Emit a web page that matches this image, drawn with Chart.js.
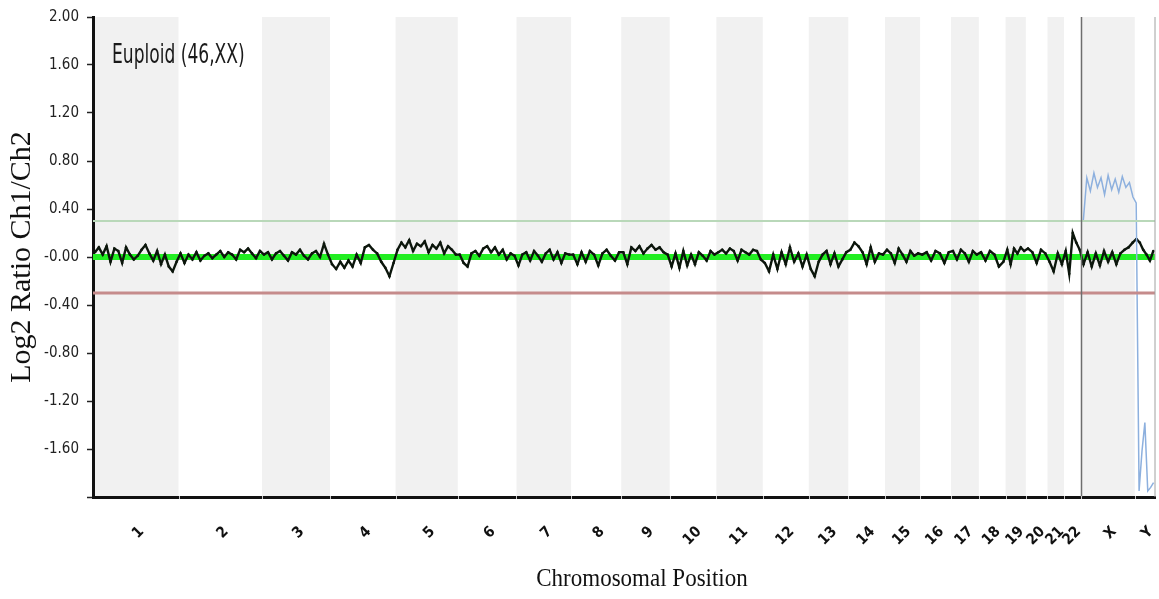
<!DOCTYPE html>
<html>
<head>
<meta charset="utf-8">
<title>Euploid (46,XX)</title>
<script src="https://cdn.jsdelivr.net/npm/chart.js@4.4.1/dist/chart.umd.min.js"></script>
<style>
  html, body { margin: 0; padding: 0; background: #fff; }
  canvas { display: block; }
</style>
</head>
<body>
<canvas id="cghChart" width="1159" height="599"></canvas>
<script>
// ========== Data ==========
// chromosomes and their lengths (Mb)
const chromNames = ['1', '2', '3', '4', '5', '6', '7', '8', '9', '10', '11', '12',
  '13', '14', '15', '16', '17', '18', '19', '20', '21', '22', 'X', 'Y'];
const chromLengths = [249, 243, 198, 191, 181, 171, 159, 146, 141, 136, 135, 134,
  115, 107, 102, 90, 81, 78, 59, 63, 48, 51, 155, 59];

// log2 ratio trace, one array per chromosome
const ratioChr1 = [0.04, 0.08, 0.02, 0.09, -0.04, 0.07, 0.05, -0.05, 0.08, 0.02, -0.02, 0.01, 0.06, 0.10, 0.03, -0.03, 0.05, -0.06, 0.02, -0.08, -0.12, -0.04];
const ratioChr2 = [0.03, -0.05, 0.02, -0.02, 0.04, -0.03, 0.01, 0.03, -0.01, 0.02, 0.05, 0.00, 0.04, 0.02, -0.02, 0.06, 0.04, 0.07, 0.03, -0.01, 0.05];
const ratioChr3 = [0.02, 0.04, -0.02, 0.03, 0.05, 0.01, -0.03, 0.04, 0.02, 0.06, 0.01, -0.02, 0.03, 0.05, 0.00, 0.11, 0.02];
const ratioChr4 = [-0.06, -0.10, -0.04, -0.09, -0.03, -0.08, 0.02, -0.05, 0.08, 0.10, 0.06, 0.03, -0.04, -0.09, -0.16, -0.05];
const ratioChr5 = [0.06, 0.12, 0.08, 0.14, 0.05, 0.11, 0.09, 0.13, 0.04, 0.10, 0.07, 0.12, 0.03, 0.09, 0.06, 0.02];
const ratioChr6 = [0.02, -0.05, -0.08, 0.03, 0.05, 0.01, 0.07, 0.09, 0.04, 0.08, 0.02, 0.06, -0.02, 0.03, 0.01];
const ratioChr7 = [-0.07, 0.02, 0.04, -0.03, 0.05, 0.01, -0.04, 0.03, 0.06, -0.02, 0.04, -0.05, 0.03, 0.02];
const ratioChr8 = [0.02, -0.06, 0.04, -0.04, 0.05, 0.02, -0.07, 0.03, 0.06, 0.01, -0.03, 0.04];
const ratioChr9 = [0.04, -0.06, 0.08, 0.05, 0.09, 0.03, 0.07, 0.10, 0.06, 0.08, 0.04, 0.02];
const ratioChr10 = [-0.08, 0.03, -0.09, 0.05, -0.07, 0.02, -0.06, 0.04, 0.01, -0.03, 0.05, 0.02];
const ratioChr11 = [0.04, 0.06, 0.03, 0.07, 0.05, -0.03, 0.06, 0.04, 0.02, 0.06, 0.05, -0.02];
const ratioChr12 = [-0.05, -0.12, 0.02, -0.10, 0.04, -0.06, 0.08, -0.04, 0.03, -0.08, 0.02];
const ratioChr13 = [-0.10, -0.16, -0.04, 0.02, 0.05, -0.06, 0.03, -0.08, -0.02, 0.04];
const ratioChr14 = [0.06, 0.12, 0.09, 0.04, -0.06, 0.08, -0.04, 0.03, 0.02];
const ratioChr15 = [0.06, 0.03, -0.05, 0.07, 0.02, -0.04, 0.05, 0.01, 0.03];
const ratioChr16 = [0.02, 0.04, -0.03, 0.05, 0.03, -0.05, 0.04];
const ratioChr17 = [0.05, -0.02, 0.06, 0.03, -0.04, 0.05, 0.02];
const ratioChr18 = [0.04, -0.03, 0.05, 0.02, -0.08, -0.04];
const ratioChr19 = [0.06, -0.06, 0.07, 0.03, 0.08, 0.05];
const ratioChr20 = [0.07, 0.04, -0.05, 0.06, 0.03];
const ratioChr21 = [-0.04, -0.12, 0.03, -0.06];
const ratioChr22 = [0.05, -0.14, 0.20, 0.12, 0.06];
const ratioChrX = [-0.06, 0.04, -0.08, 0.03, -0.07, 0.05, -0.04, 0.04, -0.06, 0.03, 0.06, 0.08, 0.12];
const ratioChrY = [0.15, 0.12, 0.06, 0.02, -0.03, 0.05];

const ratioByChrom = [ratioChr1, ratioChr2, ratioChr3, ratioChr4, ratioChr5, ratioChr6,
  ratioChr7, ratioChr8, ratioChr9, ratioChr10, ratioChr11, ratioChr12, ratioChr13,
  ratioChr14, ratioChr15, ratioChr16, ratioChr17, ratioChr18, ratioChr19, ratioChr20,
  ratioChr21, ratioChr22, ratioChrX, ratioChrY];

// light blue trace on the sex chromosomes
const blueChrX = [0.30, 0.66, 0.55, 0.70, 0.58, 0.66, 0.52, 0.68, 0.56, 0.65, 0.54, 0.67, 0.58, 0.62, 0.50];
const blueChrY = [0.45, -1.95, -1.62, -1.38, -1.95, -1.92, -1.88];

// thresholds and baseline
const thresholdGain = 0.3;
const thresholdLoss = -0.3;
const baseline = 0;

// y axis
const yMin = -2;
const yMax = 2;
const yStep = 0.4;

// ========== Derived positions ==========
const chromStarts = [];
chromLengths.reduce((acc, len) => { chromStarts.push(acc); return acc + len; }, 0);
const genomeEnd = chromStarts[chromStarts.length - 1] + chromLengths[chromLengths.length - 1];
const chromCenters = chromStarts.map((s, i) => s + chromLengths[i] / 2);

const spread = (values, c) => values.map((v, i) => ({
  x: chromStarts[c] + (i + 0.5) * chromLengths[c] / values.length,
  y: v
}));

const ratioPoints = ratioByChrom.flatMap((vals, c) => spread(vals, c));
const bluePoints = spread(blueChrX, 22).concat(spread(blueChrY, 23));
const hLine = v => [{ x: 0, y: v }, { x: genomeEnd, y: v }];

const narrowFont = '"Liberation Sans Narrow", "DejaVu Sans Condensed", "Liberation Sans", sans-serif';
const serifFont = '"Liberation Serif", "DejaVu Serif", serif';

// ========== Background bands, markers and captions ==========
const backdrop = {
  id: 'backdrop',
  beforeDraw(chart) {
    const { ctx, chartArea: a, scales: { x } } = chart;
    ctx.save();
    ctx.fillStyle = '#f1f1f1';
    chromStarts.forEach((s, i) => {
      if (i % 2 !== 0) return;
      const l = x.getPixelForValue(s);
      const r = x.getPixelForValue(s + chromLengths[i]);
      ctx.fillRect(l, a.top, r - l, a.bottom - a.top);
    });
    ctx.restore();
  },
  afterDatasetsDraw(chart) {
    const { ctx, chartArea: a, scales: { x } } = chart;
    ctx.save();
    // X chromosome divider
    const xs = x.getPixelForValue(chromStarts[22]);
    ctx.strokeStyle = '#6e6e6e';
    ctx.lineWidth = 1.5;
    ctx.beginPath();
    ctx.moveTo(xs, a.top);
    ctx.lineTo(xs, a.bottom);
    ctx.stroke();
    // right frame
    const xe = x.getPixelForValue(genomeEnd);
    ctx.strokeStyle = '#a0a0a0';
    ctx.lineWidth = 1;
    ctx.beginPath();
    ctx.moveTo(xe, a.top);
    ctx.lineTo(xe, a.bottom);
    ctx.stroke();
    ctx.restore();
  },
  afterDraw(chart) {
    const { ctx, chartArea: a, scales: { x } } = chart;
    ctx.save();
    // small breaks in the bottom axis at each chromosome boundary
    ctx.strokeStyle = '#c8c8c8';
    ctx.lineWidth = 1;
    chromStarts.slice(1).forEach(s => {
      const px = Math.round(x.getPixelForValue(s)) + 0.5;
      ctx.beginPath();
      ctx.moveTo(px, a.bottom - 1);
      ctx.lineTo(px, a.bottom + 2);
      ctx.stroke();
    });

    // sample caption
    ctx.fillStyle = '#1a1a1a';
    ctx.font = '19px ' + narrowFont;
    ctx.textBaseline = 'alphabetic';
    ctx.textAlign = 'left';
    ctx.translate(a.left + 19, 63);
    ctx.scale(1, 1.42);
    ctx.fillText('Euploid (46,XX)', 0, 0);
    ctx.restore();

    // x axis title
    ctx.save();
    ctx.fillStyle = '#111';
    ctx.font = '23px ' + serifFont;
    ctx.textAlign = 'center';
    ctx.textBaseline = 'middle';
    ctx.translate((a.left + a.right) / 2 + 18, 579);
    ctx.scale(1, 1.1);
    ctx.fillText('Chromosomal Position', 0, 0);
    ctx.restore();
  }
};

// ========== Chart ==========
const ctx = document.getElementById('cghChart').getContext('2d');

new Chart(ctx, {
  type: 'line',
  data: {
    datasets: [
      {
        label: 'Gain threshold',
        data: hLine(thresholdGain),
        borderColor: '#b9d8b9',
        borderWidth: 2,
        pointRadius: 0
      },
      {
        label: 'Loss threshold',
        data: hLine(thresholdLoss),
        borderColor: '#c58b8b',
        borderWidth: 3,
        pointRadius: 0
      },
      {
        label: 'Sex chromosomes',
        data: bluePoints,
        borderColor: '#8db0de',
        borderWidth: 1.5,
        pointRadius: 0,
        tension: 0
      },
      {
        label: 'Log2 ratio',
        data: ratioPoints,
        borderColor: '#0c160c',
        borderWidth: 2.4,
        pointRadius: 1.3,
        pointBorderWidth: 0,
        pointBackgroundColor: '#0c160c',
        tension: 0
      },
      {
        label: 'Baseline',
        data: hLine(baseline),
        borderColor: '#22ee22',
        borderWidth: 6,
        pointRadius: 0
      }
    ]
  },
  options: {
    responsive: false,
    animation: false,
    devicePixelRatio: 1,
    parsing: false,
    layout: { padding: { top: 17, right: 4, left: 0, bottom: 0 } },
    plugins: {
      legend: { display: false },
      tooltip: { enabled: false }
    },
    scales: {
      x: {
        type: 'linear',
        min: 0,
        max: genomeEnd,
        afterFit: (s) => { s.height = 102; s.paddingLeft = 0; s.paddingRight = 0; },
        afterBuildTicks: (s) => { s.ticks = chromCenters.map(v => ({ value: v })); },
        grid: { display: false },
        border: { color: '#111', width: 3 },
        ticks: {
          autoSkip: false,
          minRotation: 45,
          maxRotation: 45,
          padding: 18,
          labelOffset: 6,
          color: '#111',
          font: { family: narrowFont, size: 15, weight: 'bold' },
          callback: (v, i) => chromNames[i]
        }
      },
      y: {
        min: yMin,
        max: yMax,
        afterFit: (s) => { s.width = 93; },
        grid: { drawOnChartArea: false, drawTicks: true, tickLength: 6, color: '#222', tickWidth: 1.5 },
        border: { color: '#111', width: 3 },
        ticks: {
          stepSize: yStep,
          padding: 8,
          color: '#222',
          font: { family: narrowFont, size: 15 },
          callback: (v) => {
            if (Math.abs(v - yMin) < 1e-6) return '';
            if (Math.abs(v) < 1e-6) return '-0.00';
            return v.toFixed(2);
          }
        },
        title: {
          display: true,
          text: 'Log2 Ratio Ch1/Ch2',
          color: '#111',
          font: { family: serifFont, size: 30 },
          padding: { top: 4, bottom: 0 }
        }
      }
    }
  },
  plugins: [backdrop]
});
</script>
</body>
</html>
